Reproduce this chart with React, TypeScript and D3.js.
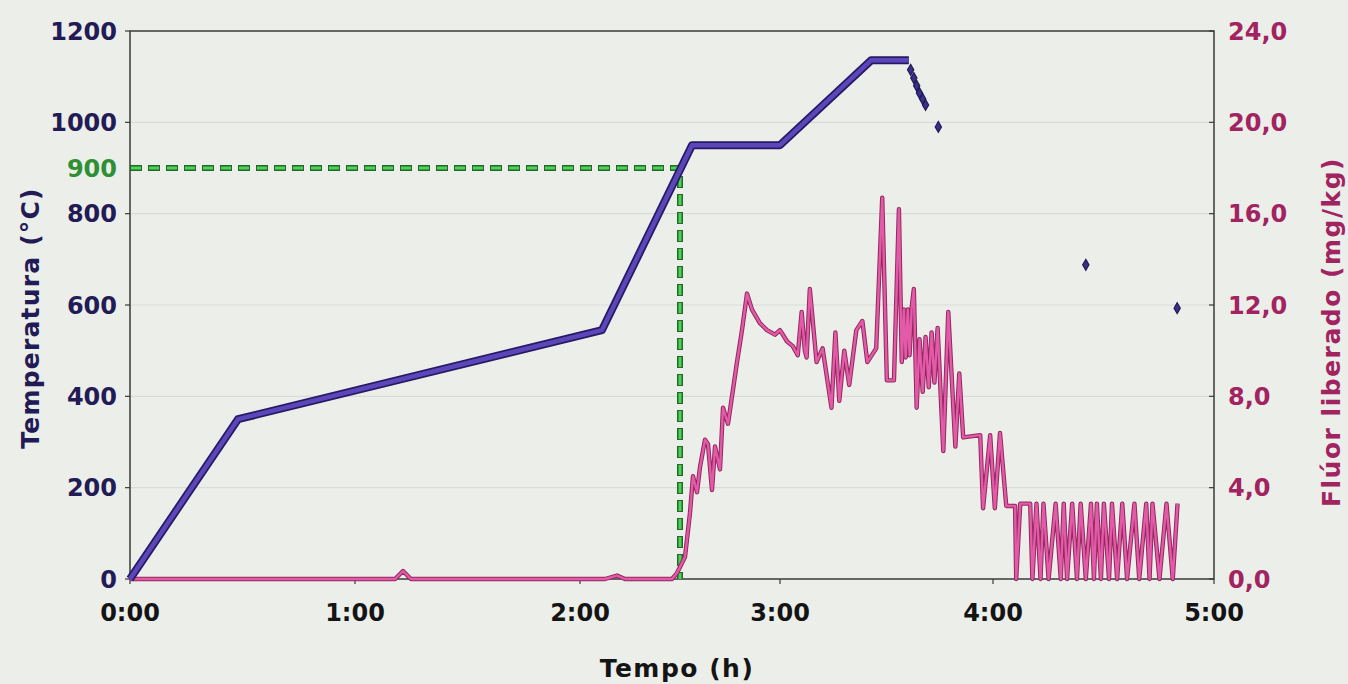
import React from "react";
import * as d3 from "d3";

// Time axis (minutes from start) and its labels
const timeTicks = [0, 60, 120, 180, 240, 300];
const timeLabels = ["0:00", "1:00", "2:00", "3:00", "4:00", "5:00"];

// Left axis: temperature (°C)
const tempTicks = [0, 200, 400, 600, 800, 1000, 1200];
// Right axis: released fluorine (mg/kg)
const fluorTicks = [0, 4, 8, 12, 16, 20, 24];

// Furnace temperature program: [minute, °C]
const tempRamp: [number, number][] = [
  [0, 0], [28.8, 350], [126.6, 545], [153.6, 950], [180, 950],
  [205.7, 1136], [216.3, 1136],
];
// Cooling readings recorded as separate points: [minute, °C]
const tempCooling: [number, number][] = [
  [216.8, 1115], [217.7, 1097], [218.5, 1080], [219.3, 1064], [220.2, 1051],
  [221, 1038], [224.6, 990], [265.2, 688], [290, 593],
];

// Reference point: 900 °C reached at 2:30
const refTemp = 900;
const refMinute = 150;

// Released fluorine: [minute, mg/kg]
const fluorSeries: [number, number][] = [
  [0, 0], [70.7, 0], [72.8, 0.35], [74.9, 0], [127.5, 0], [131.1, 0.15], [133.5, 0],
  [147.6, 0], [149.1, 0.26], [151.5, 0.96], [153, 2.9], [153.9, 4.5], [155.1, 3.8],
  [156, 4.9], [157.5, 6.1], [158.4, 5.9], [159.6, 3.9], [160.5, 5.8], [162, 4.8],
  [162.9, 7.5], [164.4, 6.8], [165.6, 8.0], [167.1, 9.5], [168.6, 10.9], [170.1, 12.5],
  [171.6, 11.8], [174, 11.2], [176.1, 10.9], [178.5, 10.7], [180, 10.9], [182, 10.4],
  [183.6, 10.2], [185, 9.8], [186.1, 11.7], [187, 10.0], [187.5, 9.7], [188.4, 12.7],
  [190.3, 9.5], [192, 10.1], [194.5, 7.5], [195.6, 10.8], [196.7, 7.8], [198.1, 10.0],
  [199.5, 8.5], [201.5, 10.9], [203.2, 11.3], [204.6, 9.5], [207.1, 10.1], [208.8, 16.7],
  [210.1, 8.7], [212.1, 8.7], [213.5, 16.2], [214.3, 9.5], [214.9, 11.8], [215.4, 9.7],
  [216, 11.8], [216.5, 9.8], [217.1, 11.9], [217.7, 12.7], [218.5, 7.5], [219.3, 10.5],
  [220.2, 8.2], [221, 10.6], [221.9, 8.4], [222.7, 10.8], [223.5, 8.6], [224.4, 11.0],
  [226, 5.6], [227.4, 11.7], [229.4, 5.8], [230.5, 9.0], [231.6, 6.2], [236.4, 6.3],
  [237.2, 3.1], [239.2, 6.3], [240.5, 3.1], [241.9, 6.4], [243.6, 3.2], [246, 3.2],
  [246.3, 0], [247.4, 3.3], [250.1, 3.3], [250.7, 0], [251.8, 3.3], [252.9, 0],
  [253.7, 3.3], [255.1, 0], [257, 3.3], [258.4, 0], [259.2, 3.3], [260.1, 0],
  [261.5, 3.3], [262.8, 0], [263.8, 3.3], [265.2, 0], [266.6, 3.3], [267.4, 0],
  [268.2, 3.3], [269.3, 0], [270.1, 3.3], [271.5, 0], [272.3, 3.3], [273.7, 0],
  [275.1, 3.3], [276.4, 0], [278.4, 3.3], [279.7, 0], [281.6, 3.3], [282.5, 0],
  [283.3, 3.3], [285.2, 0], [287.1, 3.3], [288.8, 0], [290.1, 3.3],
];

const W = 1348;
const H = 684;
const left = 130;
const right = 1214;
const top = 31;
const bottom = 579;

const FONT = "'DejaVu Sans', sans-serif";
const NAVY = "#221b55";
const WINE = "#a1235f";
const GREEN = "#2f8f34";

export default function App() {
  const x = d3
    .scaleLinear()
    .domain(timeTicks)
    .range([left, 355, 580, 780, 993, right]);
  const yT = d3.scaleLinear().domain([0, 1200]).range([bottom, top]);
  const yF = d3.scaleLinear().domain([0, 24]).range([bottom, top]);

  const tempLine = d3
    .line<[number, number]>()
    .x((d) => x(d[0]))
    .y((d) => yT(d[1]));
  const fluorLine = d3
    .line<[number, number]>()
    .x((d) => x(d[0]))
    .y((d) => yF(d[1]));

  const diamond = d3.symbol().type(d3.symbolDiamond).size(34)() as string;

  const refPath = `M${left},${yT(refTemp)}H${x(refMinute)}V${yT(0)}`;

  return (
    <svg
      width={W}
      height={H}
      style={{ position: "absolute", left: 0, top: 0, display: "block" }}
      fontFamily={FONT}
    >
      <rect width={W} height={H} fill="#eceeea" />

      {/* horizontal gridlines */}
      {tempTicks.slice(1, -1).map((t) => (
        <line
          key={"g" + t}
          x1={left}
          x2={right}
          y1={yT(t)}
          y2={yT(t)}
          stroke="#d9dbd8"
          strokeWidth={1.2}
        />
      ))}

      {/* plot frame */}
      <rect
        x={left}
        y={top}
        width={right - left}
        height={bottom - top}
        fill="none"
        stroke="#3a3a3a"
        strokeWidth={1.5}
      />

      {/* left ticks */}
      {tempTicks.map((t) => (
        <line key={"lt" + t} x1={left - 5} x2={left} y1={yT(t)} y2={yT(t)} stroke="#3a3a3a" strokeWidth={1.2} />
      ))}
      {/* right ticks */}
      {fluorTicks.map((t) => (
        <line key={"rt" + t} x1={right - 5} x2={right} y1={yF(t)} y2={yF(t)} stroke="#3a3a3a" strokeWidth={1.2} />
      ))}
      {/* bottom ticks */}
      {timeTicks.map((t) => (
        <line key={"bt" + t} x1={x(t)} x2={x(t)} y1={bottom} y2={bottom + 5} stroke="#3a3a3a" strokeWidth={1.2} />
      ))}

      {/* 900 °C reference */}
      <path d={refPath} fill="none" stroke="#1f6b26" strokeWidth={6} strokeDasharray="12 6" />
      <path d={refPath} fill="none" stroke="#4fd05a" strokeWidth={3} strokeDasharray="10 8" strokeDashoffset={-1} />

      {/* fluorine release */}
      <path d={fluorLine(fluorSeries) as string} fill="none" stroke="#93295f" strokeWidth={4.4} strokeLinejoin="round" />
      <path d={fluorLine(fluorSeries) as string} fill="none" stroke="#e35aa8" strokeWidth={2.4} strokeLinejoin="round" />

      {/* temperature */}
      <path d={tempLine(tempRamp) as string} fill="none" stroke="#261a66" strokeWidth={8} strokeLinejoin="round" />
      <path d={tempLine(tempRamp) as string} fill="none" stroke="#5c46b8" strokeWidth={4.5} strokeLinejoin="round" />
      {tempCooling.map((d, i) => (
        <path
          key={"c" + i}
          d={diamond}
          transform={`translate(${x(d[0])},${yT(d[1])})`}
          fill="#3b2f8a"
          stroke="#1e1a55"
          strokeWidth={1.2}
        />
      ))}

      {/* left tick labels */}
      {tempTicks.map((t) => (
        <text
          key={"ll" + t}
          x={117}
          y={yT(t)}
          dy="0.36em"
          textAnchor="end"
          fontSize={24}
          fontWeight="bold"
          fill={NAVY}
        >
          {t}
        </text>
      ))}
      <text x={117} y={yT(refTemp)} dy="0.36em" textAnchor="end" fontSize={24} fontWeight="bold" fill={GREEN}>
        {refTemp}
      </text>

      {/* right tick labels */}
      {fluorTicks.map((t) => (
        <text
          key={"rl" + t}
          x={1228}
          y={yF(t)}
          dy="0.36em"
          textAnchor="start"
          fontSize={24}
          fontWeight="bold"
          fill={WINE}
        >
          {t.toFixed(1).replace(".", ",")}
        </text>
      ))}

      {/* bottom tick labels */}
      {timeTicks.map((t, i) => (
        <text
          key={"bl" + t}
          x={x(t)}
          y={612}
          dy="0.36em"
          textAnchor="middle"
          fontSize={24}
          fontWeight="bold"
          fill="#141414"
        >
          {timeLabels[i]}
        </text>
      ))}

      {/* axis titles */}
      <text x={677} y={668} dy="0.36em" textAnchor="middle" fontSize={25} fontWeight="bold" fill="#141414" letterSpacing={1.5}>
        Tempo (h)
      </text>
      <text
        transform="translate(30,318) rotate(-90)"
        dy="0.36em"
        textAnchor="middle"
        fontSize={25}
        fontWeight="bold"
        fill={NAVY}
        letterSpacing={1.2}
      >
        Temperatura (°C)
      </text>
      <text
        transform="translate(1331,332) rotate(-90)"
        dy="0.36em"
        textAnchor="middle"
        fontSize={25}
        fontWeight="bold"
        fill={WINE}
        letterSpacing={1.5}
      >
        Flúor liberado (mg/kg)
      </text>
    </svg>
  );
}
